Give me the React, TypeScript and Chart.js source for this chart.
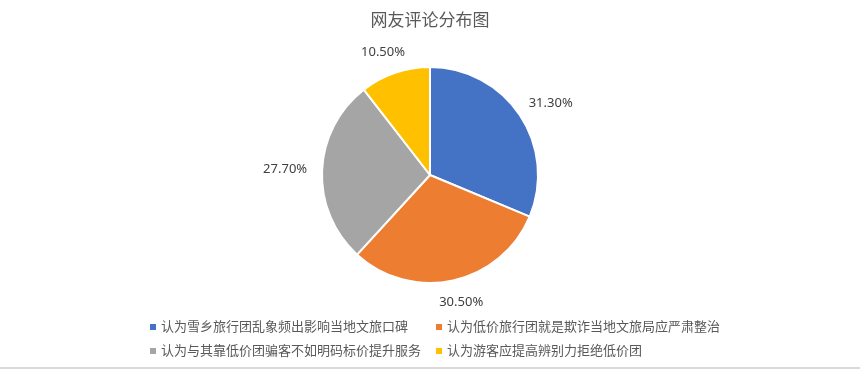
import React, { useEffect, useRef } from "react";
import { Chart, registerables } from "chart.js";

Chart.register(...registerables);

const TITLE = "网友评论分布图";
const categories = [
  "认为雪乡旅行团乱象频出影响当地文旅口碑",
  "认为低价旅行团就是欺诈当地文旅局应严肃整治",
  "认为与其靠低价团骗客不如明码标价提升服务",
  "认为游客应提高辨别力拒绝低价团",
];
const values = [31.3, 30.5, 27.7, 10.5];
const colors = ["#4472C4", "#ED7D31", "#A5A5A5", "#FFC000"];

const CJK = '"Noto Sans CJK SC", "Noto Sans", sans-serif';
const LATIN = '"Noto Sans", "DejaVu Sans", sans-serif';

const decorPlugin = {
  id: "decor",
  afterDraw(chart: any) {
    const ctx = chart.ctx as CanvasRenderingContext2D;
    const W = chart.width;
    const H = chart.height;
    ctx.save();

    // title
    ctx.fillStyle = "#595959";
    ctx.font = `17px ${CJK}`;
    ctx.textAlign = "center";
    ctx.textBaseline = "middle";
    ctx.fillText(TITLE, W / 2, 20);

    // data labels (outside end)
    ctx.font = `13px ${LATIN}`;
    ctx.fillStyle = "#404040";
    const meta = chart.getDatasetMeta(0);
    meta.data.forEach((arc: any, i: number) => {
      const p = arc.getProps(["x", "y", "startAngle", "endAngle", "outerRadius"], true);
      const mid = (p.startAngle + p.endAngle) / 2;
      const dx = Math.cos(mid);
      const dy = Math.sin(mid);
      const txt = values[i].toFixed(2) + "%";
      const w = ctx.measureText(txt).width;
      const h = 14;
      const r = p.outerRadius + 15;
      const cx = p.x + r * dx + (dx * w) / 2;
      const cy = p.y + r * dy + (dy * h) / 2;
      ctx.textAlign = "center";
      ctx.textBaseline = "middle";
      ctx.fillText(txt, cx, cy);
    });

    // legend: two columns, two rows
    ctx.font = `13px ${CJK}`;
    const box = 6;
    const boxGap = 5;
    const colGap = 15;
    const rowY = [326, 350];
    const cols = 2;
    const colWidths: number[] = [];
    for (let c = 0; c < cols; c++) {
      let m = 0;
      for (let i = c; i < categories.length; i += cols) {
        m = Math.max(m, ctx.measureText(categories[i]).width);
      }
      colWidths.push(box + boxGap + m);
    }
    const total = colWidths.reduce((a, b) => a + b, 0) + colGap * (cols - 1);
    const startX = W / 2 + 5 - total / 2;
    categories.forEach((label, i) => {
      const c = i % cols;
      const r = Math.floor(i / cols);
      let x = startX;
      for (let k = 0; k < c; k++) x += colWidths[k] + colGap;
      const y = rowY[r];
      ctx.fillStyle = colors[i];
      ctx.fillRect(x, y - box / 2 + 1, box, box);
      ctx.fillStyle = "#595959";
      ctx.textAlign = "left";
      ctx.textBaseline = "middle";
      ctx.fillText(label, x + box + boxGap, y);
    });

    // bottom border line
    ctx.fillStyle = "#d9d9d9";
    ctx.fillRect(0, H - 2, W, 2);
    ctx.restore();
  },
};

export default function App() {
  const ref = useRef<HTMLCanvasElement | null>(null);
  useEffect(() => {
    if (!ref.current) return;
    const chart = new Chart(ref.current, {
      type: "pie",
      data: {
        labels: categories,
        datasets: [
          {
            data: values,
            backgroundColor: colors,
            borderColor: "#ffffff",
            borderWidth: 2,
          },
        ],
      },
      options: {
        animation: false,
        responsive: true,
        maintainAspectRatio: false,
        layout: { padding: { top: 66, bottom: 85, left: 0, right: 0 } },
        plugins: {
          legend: { display: false },
          title: { display: false },
          tooltip: { enabled: false },
        },
      },
      plugins: [decorPlugin],
    });
    return () => chart.destroy();
  }, []);
  return (
    <div
      style={{
        position: "fixed",
        left: 0,
        top: 0,
        width: 860,
        height: 369,
        background: "#ffffff",
      }}
    >
      <canvas ref={ref} />
    </div>
  );
}
